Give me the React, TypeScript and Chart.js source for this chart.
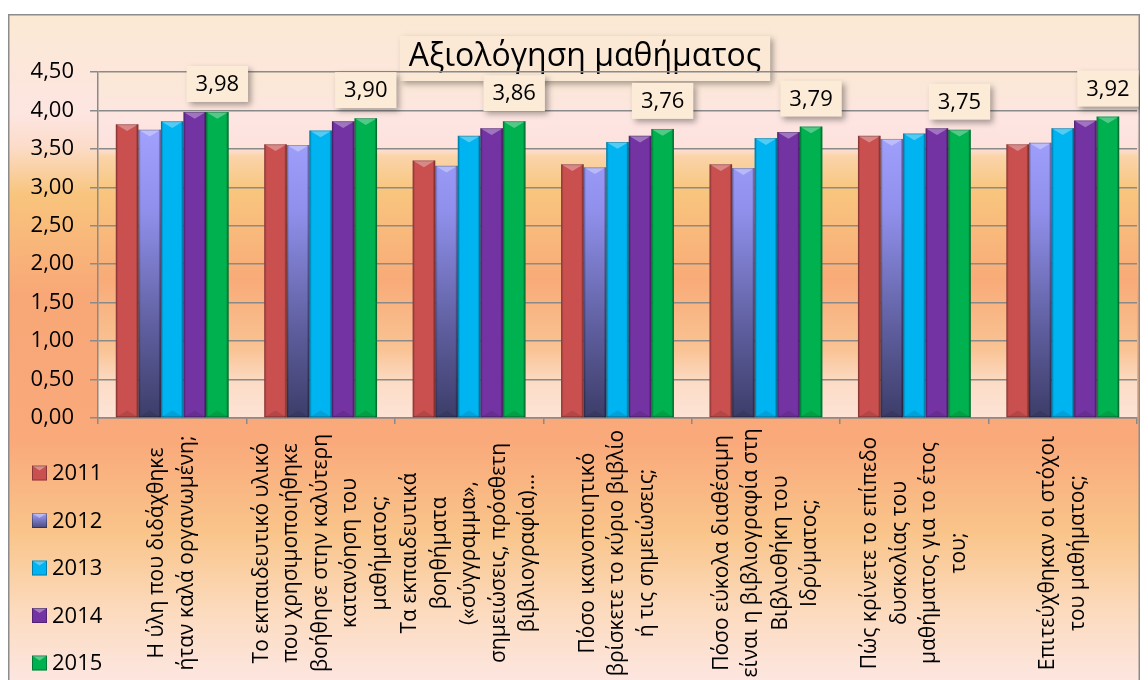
import { useEffect, useRef } from "react";
import { Chart, registerables } from "chart.js";

Chart.register(...registerables);

const FONT = '"Open Sans", "Noto Sans", "DejaVu Sans", sans-serif';

// ---------- data ----------
const chartTitle = "Αξιολόγηση μαθήματος";

const categoryLines: string[][] = [
  ["Η ύλη που διδάχθηκε", "ήταν καλά οργανωμένη;"],
  ["Το εκπαιδευτικό υλικό", "που χρησιμοποιήθηκε", "βοήθησε στην καλύτερη", "κατανόηση του", "μαθήματος;"],
  ["Τα εκπαιδευτικά", "βοηθήματα", "(«σύγγραμμα»,", "σημειώσεις, πρόσθετη", "βιβλιογραφία)..."],
  ["Πόσο ικανοποιητικό", "βρίσκετε το κύριο βιβλίο", "ή τις σημειώσεις;"],
  ["Πόσο εύκολα διαθέσιμη", "είναι η βιβλιογραφία στη", "Βιβλιοθήκη του", "Ιδρύματος;"],
  ["Πώς κρίνετε το επίπεδο", "δυσκολίας του", "μαθήματος για το έτος", "του;"],
  ["Επιτεύχθηκαν οι στόχοι", "του μαθήματος;"],
];

const seriesNames = ["2011", "2012", "2013", "2014", "2015"];
const values2011 = [3.82, 3.56, 3.35, 3.30, 3.30, 3.67, 3.56];
const values2012 = [3.75, 3.55, 3.28, 3.26, 3.25, 3.63, 3.58];
const values2013 = [3.86, 3.74, 3.67, 3.59, 3.64, 3.70, 3.77];
const values2014 = [3.98, 3.86, 3.77, 3.67, 3.72, 3.77, 3.87];
const values2015 = [3.98, 3.90, 3.86, 3.76, 3.79, 3.75, 3.92];

const yMin = 0;
const yMax = 4.5;
const yStep = 0.5;

// index of the series whose values are labelled
const labelledSeries = 4;

// ---------- styles ----------
const seriesColors = ["#c9504f", "#9a9af8", "#00b3f1", "#7433a2", "#00b14f"];
const W = 1132;
const H = 720;
const VIEW_H = 666;

const fmt = (v: number) => v.toFixed(2).replace(".", ",");

export default function App() {
  const ref = useRef<HTMLCanvasElement>(null);

  useEffect(() => {
    const canvas = ref.current;
    if (!canvas) return;

    const gradient2012 = (ctx: any) => {
      const chart = ctx.chart;
      const area = chart.chartArea;
      if (!area) return seriesColors[1];
      const g = chart.ctx.createLinearGradient(0, area.top + 50, 0, area.bottom);
      g.addColorStop(0, "#a2a2ff");
      g.addColorStop(0.3, "#9090ec");
      g.addColorStop(0.7, "#5e5e9e");
      g.addColorStop(1, "#3d3d69");
      return g;
    };

    const decor = {
      id: "decor",
      beforeDraw(chart: any) {
        const ctx = chart.ctx;
        const area = chart.chartArea;
        ctx.save();
        // outer background
        const g = ctx.createLinearGradient(0, 0, 0, VIEW_H);
        g.addColorStop(0, "#fbe9d3");
        g.addColorStop(0.15, "#fde5e1");
        g.addColorStop(0.2, "#fcdcc8");
        g.addColorStop(0.27, "#f8c57d");
        g.addColorStop(0.42, "#f8a877");
        g.addColorStop(0.64, "#f9a97a");
        g.addColorStop(0.78, "#f9c58b");
        g.addColorStop(0.9, "#fcdbbf");
        g.addColorStop(1, "#fde6e0");
        ctx.fillStyle = g;
        ctx.fillRect(0, 0, W, H);

        // plot area background
        const h = area.bottom - area.top;
        const p = ctx.createLinearGradient(0, area.top, 0, area.bottom);
        p.addColorStop(0, "#fbe8d4");
        p.addColorStop(0.14, "#fde5e2");
        p.addColorStop(0.22, "#fde2dc");
        p.addColorStop(0.245, "#fad3a8");
        p.addColorStop(0.34, "#f8c67e");
        p.addColorStop(0.6, "#f8ab78");
        p.addColorStop(0.8, "#f9c393");
        p.addColorStop(0.9, "#fcdcc6");
        p.addColorStop(1, "#fde3d6");
        ctx.fillStyle = p;
        ctx.fillRect(area.left, area.top, area.right - area.left, h);

        // frame
        ctx.strokeStyle = "#8c8c8c";
        ctx.lineWidth = 1.5;
        ctx.strokeRect(0.75, 0.75, W - 1.5, H + 10);

        // title box
        const tx = 577;
        const ty = 43;
        ctx.font = `32px ${FONT}`;
        const tw = ctx.measureText(chartTitle).width;
        const bx = tx - tw / 2 - 9;
        const bw = tw + 18;
        ctx.save();
        ctx.shadowColor = "rgba(0,0,0,0.35)";
        ctx.shadowBlur = 6;
        ctx.shadowOffsetX = 3;
        ctx.shadowOffsetY = 3;
        ctx.fillStyle = "#fbe9d6";
        ctx.fillRect(bx, 22, bw, 45);
        ctx.restore();
        ctx.fillStyle = "#000";
        ctx.textAlign = "center";
        ctx.textBaseline = "middle";
        ctx.fillText(chartTitle, tx, ty);
        ctx.restore();
      },
      afterDatasetsDraw(chart: any) {
        const ctx = chart.ctx;
        ctx.save();
        // bevel effect on bars
        chart.data.datasets.forEach((_ds: any, di: number) => {
          const meta = chart.getDatasetMeta(di);
          meta.data.forEach((bar: any) => {
            const { x, y, base, width } = bar.getProps(["x", "y", "base", "width"], true);
            const l = x - width / 2;
            const r = x + width / 2;
            const hh = base - y;
            const d = width * 0.3;
            ctx.fillStyle = "rgba(255,255,255,0.32)";
            ctx.beginPath();
            ctx.moveTo(l, y);
            ctx.lineTo(r, y);
            ctx.lineTo(x, y + d);
            ctx.closePath();
            ctx.fill();
            ctx.fillStyle = "rgba(0,0,0,0.10)";
            ctx.beginPath();
            ctx.moveTo(l, base);
            ctx.lineTo(r, base);
            ctx.lineTo(x, base - d);
            ctx.closePath();
            ctx.fill();
            ctx.fillStyle = "rgba(0,0,0,0.12)";
            ctx.fillRect(l, y, 2, hh);
            ctx.fillStyle = "rgba(0,0,0,0.22)";
            ctx.fillRect(r - 2, y, 2, hh);
            ctx.strokeStyle = "rgba(0,0,0,0.22)";
            ctx.lineWidth = 1;
            ctx.strokeRect(l + 0.5, y + 0.5, width - 1, hh - 1);
          });
        });

        // value labels
        const meta = chart.getDatasetMeta(labelledSeries);
        const vals = chart.data.datasets[labelledSeries].data as number[];
        ctx.font = `22px ${FONT}`;
        ctx.textAlign = "center";
        ctx.textBaseline = "middle";
        meta.data.forEach((bar: any, i: number) => {
          const { x, y } = bar.getProps(["x", "y"], true);
          const text = fmt(vals[i]);
          const tw = ctx.measureText(text).width;
          const cy = y - 28;
          const bw = tw + 18;
          const bh = 36;
          ctx.save();
          ctx.shadowColor = "rgba(0,0,0,0.35)";
          ctx.shadowBlur = 6;
          ctx.shadowOffsetX = 3;
          ctx.shadowOffsetY = 3;
          ctx.fillStyle = "#fbebd7";
          ctx.fillRect(x - bw / 2, cy - bh / 2, bw, bh);
          ctx.restore();
          ctx.fillStyle = "#000";
          ctx.fillText(text, x, cy + 1);
        });
        ctx.restore();
      },
      afterDraw(chart: any) {
        const ctx = chart.ctx;
        const xs = chart.scales.x;
        ctx.save();
        // category labels (rotated, centred lines)
        ctx.font = `21px ${FONT}`;
        ctx.fillStyle = "#000";
        ctx.textAlign = "center";
        ctx.textBaseline = "middle";
        categoryLines.forEach((lines, i) => {
          const cx = xs.getPixelForValue(i);
          const n = lines.length;
          lines.forEach((line, j) => {
            const lx = cx + (j - (n - 1) / 2) * 29.5;
            ctx.save();
            ctx.translate(lx, 539);
            ctx.rotate(-Math.PI / 2);
            ctx.fillText(line, 0, 0);
            ctx.restore();
          });
        });

        // legend
        ctx.font = `22px ${FONT}`;
        ctx.textAlign = "left";
        chart.data.datasets.forEach((ds: any, i: number) => {
          const cy = 459 + i * 47.5;
          const sx = 24;
          const s = 15;
          const top = cy - s / 2;
          if (i === 1) {
            const lg = ctx.createLinearGradient(0, top, 0, top + s);
            lg.addColorStop(0, "#a2a2ff");
            lg.addColorStop(1, "#4a4a7c");
            ctx.fillStyle = lg;
          } else {
            ctx.fillStyle = seriesColors[i];
          }
          ctx.fillRect(sx, top, s, s);
          ctx.fillStyle = "rgba(255,255,255,0.35)";
          ctx.beginPath();
          ctx.moveTo(sx, top);
          ctx.lineTo(sx + s, top);
          ctx.lineTo(sx + s / 2, top + 5);
          ctx.closePath();
          ctx.fill();
          ctx.strokeStyle = "rgba(0,0,0,0.3)";
          ctx.lineWidth = 1;
          ctx.strokeRect(sx + 0.5, top + 0.5, s - 1, s - 1);
          ctx.fillStyle = "#000";
          ctx.fillText(ds.label, sx + s + 5, cy + 1);
        });
        ctx.restore();
      },
    };

    const allValues = [values2011, values2012, values2013, values2014, values2015];

    const chart = new Chart(canvas, {
      type: "bar",
      data: {
        labels: categoryLines.map((l) => l.join(" ")),
        datasets: seriesNames.map((name, i) => ({
          label: name,
          data: allValues[i],
          backgroundColor: i === 1 ? gradient2012 : seriesColors[i],
          borderWidth: 0,
          barPercentage: 1,
          categoryPercentage: 0.76,
        })),
      },
      options: {
        responsive: false,
        animation: false,
        devicePixelRatio: 1,
        layout: { padding: { top: 58, right: 3, left: 0, bottom: 0 } },
        plugins: {
          legend: { display: false },
          tooltip: { enabled: false },
          title: { display: false },
        },
        scales: {
          x: {
            grid: {
              offset: true,
              drawOnChartArea: false,
              drawTicks: true,
              tickLength: 6,
              color: "#8a8a8a",
              lineWidth: 1.5,
            },
            border: { display: true, color: "#8a8a8a", width: 1.5 },
            ticks: { display: false },
            afterFit: (scale: any) => {
              scale.height = H - 404;
            },
          },
          y: {
            min: yMin,
            max: yMax,
            grid: {
              color: "#8a8a8a",
              lineWidth: 1.5,
              drawTicks: true,
              tickLength: 8,
            },
            border: { display: true, color: "#8a8a8a", width: 1.5 },
            ticks: {
              stepSize: yStep,
              padding: 16,
              color: "#000",
              font: { size: 22, family: FONT },
              callback: (v: any) => fmt(Number(v)),
            },
            afterFit: (scale: any) => {
              scale.width = 90;
            },
          },
        },
      },
      plugins: [decor],
    });

    return () => chart.destroy();
  }, []);

  return (
    <div
      style={{
        position: "fixed",
        left: 8,
        top: 14,
        width: W,
        height: VIEW_H,
        overflow: "hidden",
      }}
    >
      <canvas ref={ref} width={W} height={H} style={{ display: "block", width: W, height: H }} />
    </div>
  );
}
